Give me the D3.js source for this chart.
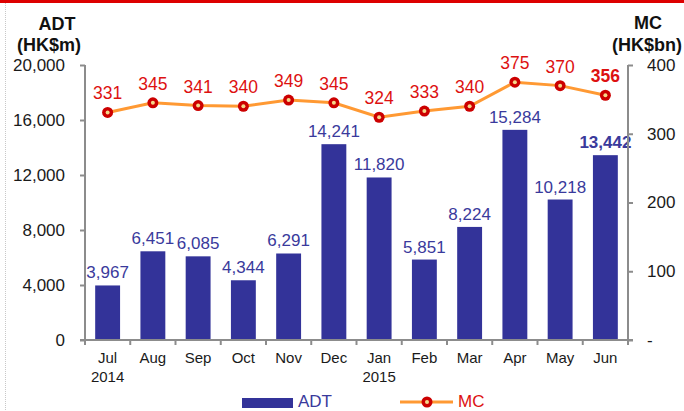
<!DOCTYPE html>
<html>
<head>
<meta charset="utf-8">
<script src="https://cdn.jsdelivr.net/npm/d3@7"></script>
<style>
  body { margin: 0; background: #fff; }
  svg { display: block; font-family: "Liberation Sans", Arial, sans-serif; }
</style>
</head>
<body>
<svg id="chart" width="684" height="411"></svg>
<script>
// months on the x axis, year shown under the first month of each year
let months = ['Jul', 'Aug', 'Sep', 'Oct', 'Nov', 'Dec', 'Jan', 'Feb', 'Mar', 'Apr', 'May', 'Jun'];
let years = ['2014', '', '', '', '', '', '2015', '', '', '', '', ''];
// average daily turnover, HK$m
let adt = [3967, 6451, 6085, 4344, 6291, 14241, 11820, 5851, 8224, 15284, 10218, 13442];
// market capitalisation, HK$bn
let mc = [331, 345, 341, 340, 349, 345, 324, 333, 340, 375, 370, 356];
let leftTicks = [0, 4000, 8000, 12000, 16000, 20000];
let rightTicks = [0, 100, 200, 300, 400];

let svg = d3.select('#chart');
let margin = {left: 85, right: 56, top: 65, bottom: 71};
let width = 684, height = 411;
let axisColor = '#8c8c8c';
let barColor = '#333399';
let lineColor = '#ff9933';
let dotColor = '#cc0000';
let mcTextColor = '#dd1111';

// top red rule and dotted left border
svg.append('rect').attr('x', 0).attr('y', 0).attr('width', width).attr('height', 3)
    .style('fill', '#dd0000');
svg.append('line').attr('x1', 5.5).attr('x2', 5.5).attr('y1', 3).attr('y2', height)
    .style('stroke', '#c8c8c8').style('stroke-dasharray', '1,1');

let x = d3.scaleBand()
    .domain(months)
    .range([margin.left, width - margin.right])
    .paddingInner(0.45)
    .paddingOuter(0.225);
let yL = d3.scaleLinear().domain([0, 20000]).range([height - margin.bottom, margin.top]);
let yR = d3.scaleLinear().domain([0, 400]).range([height - margin.bottom, margin.top]);

// bars
svg.selectAll('rect.bar')
    .data(adt)
    .join('rect')
    .attr('class', 'bar')
    .attr('x', (d, i) => x(months[i]))
    .attr('y', d => yL(d))
    .attr('width', x.bandwidth())
    .attr('height', d => yL(0) - yL(d))
    .style('fill', barColor);

svg.selectAll('text.barLabel')
    .data(adt)
    .join('text')
    .attr('class', 'barLabel')
    .attr('x', (d, i) => x(months[i]) + x.bandwidth() / 2)
    .attr('y', d => yL(d) - 7)
    .attr('text-anchor', 'middle')
    .style('font-size', '17px')
    .style('font-weight', (d, i) => i === adt.length - 1 ? 'bold' : 'normal')
    .style('fill', '#3a3a9c')
    .text(d => d3.format(',')(d));

// axes
let leftAxis = d3.axisLeft(yL).tickValues(leftTicks).tickSize(5).tickFormat(d3.format(','));
let gl = svg.append('g').attr('transform', 'translate(' + margin.left + ',0)').call(leftAxis);
let rightAxis = d3.axisRight(yR).tickValues(rightTicks).tickSize(5)
    .tickFormat(d => d === 0 ? '-' : d);
let gr = svg.append('g').attr('transform', 'translate(' + (width - margin.right) + ',0)').call(rightAxis);

let bandStep = x.step();
let boundaries = d3.range(months.length + 1).map(i => margin.left + i * bandStep);
let gx = svg.append('g');
gx.append('line')
    .attr('x1', margin.left - 5).attr('x2', width - margin.right + 5)
    .attr('y1', yL(0)).attr('y2', yL(0));
gx.selectAll('line.tick')
    .data(boundaries)
    .join('line')
    .attr('class', 'tick')
    .attr('x1', d => d).attr('x2', d => d)
    .attr('y1', yL(0)).attr('y2', yL(0) + 5);
gx.selectAll('line').style('stroke', axisColor).style('stroke-width', 2);

[gl, gr].forEach(g => {
  g.select('.domain').remove();
  g.selectAll('line').style('stroke', axisColor).style('stroke-width', 2);
  g.selectAll('text').style('font-size', '17px').style('fill', '#1a1a1a')
      .style('font-family', '"Liberation Sans", Arial, sans-serif');
});
gl.selectAll('text').attr('x', -20);
gr.selectAll('text').attr('x', 19);
gl.append('line').attr('x1', 0).attr('x2', 0).attr('y1', yL(20000)).attr('y2', yL(0))
    .style('stroke', axisColor).style('stroke-width', 2);
gr.append('line').attr('x1', 0).attr('x2', 0).attr('y1', yR(400)).attr('y2', yR(0))
    .style('stroke', axisColor).style('stroke-width', 2);

// month labels
svg.selectAll('text.month')
    .data(months)
    .join('text')
    .attr('class', 'month')
    .attr('x', d => x(d) + x.bandwidth() / 2)
    .attr('y', 363)
    .attr('text-anchor', 'middle')
    .style('font-size', '15px')
    .style('fill', '#1a1a1a')
    .text(d => d);
svg.selectAll('text.year')
    .data(years)
    .join('text')
    .attr('class', 'year')
    .attr('x', (d, i) => x(months[i]) + x.bandwidth() / 2)
    .attr('y', 382)
    .attr('text-anchor', 'middle')
    .style('font-size', '15px')
    .style('fill', '#1a1a1a')
    .text(d => d);

// MC line
let line = d3.line()
    .x((d, i) => x(months[i]) + x.bandwidth() / 2)
    .y(d => yR(d));
svg.append('path')
    .datum(mc)
    .attr('d', line)
    .style('fill', 'none')
    .style('stroke', lineColor)
    .style('stroke-width', 3);

function drawDot(sel, cx, cy) {
  sel.append('circle').attr('cx', cx).attr('cy', cy).attr('r', 5.5)
      .style('fill', dotColor);
  sel.append('circle').attr('cx', cx).attr('cy', cy).attr('r', 2)
      .style('fill', '#f5d88a');
}
let dots = svg.append('g');
mc.forEach((d, i) => drawDot(dots, x(months[i]) + x.bandwidth() / 2, yR(d)));

svg.selectAll('text.mcLabel')
    .data(mc)
    .join('text')
    .attr('class', 'mcLabel')
    .attr('x', (d, i) => x(months[i]) + x.bandwidth() / 2)
    .attr('y', d => yR(d) - 13)
    .attr('text-anchor', 'middle')
    .style('font-size', '17.5px')
    .style('font-weight', (d, i) => i === mc.length - 1 ? 'bold' : 'normal')
    .style('fill', mcTextColor)
    .text(d => d);

// axis titles
let titles = [
  {text: 'ADT', x: 57, y: 30},
  {text: '(HK$m)', x: 49, y: 51},
  {text: 'MC', x: 648, y: 29},
  {text: '(HK$bn)', x: 647, y: 51},
];
svg.selectAll('text.title')
    .data(titles)
    .join('text')
    .attr('class', 'title')
    .attr('x', d => d.x)
    .attr('y', d => d.y)
    .attr('text-anchor', 'middle')
    .style('font-size', '18px')
    .style('font-weight', 'bold')
    .style('fill', '#111')
    .text(d => d.text);

// legend
let legend = svg.append('g');
legend.append('rect').attr('x', 242).attr('y', 398).attr('width', 51).attr('height', 10)
    .style('fill', barColor);
legend.append('text').attr('x', 298).attr('y', 407).style('font-size', '17px')
    .style('fill', '#3a3a9c').text('ADT');
legend.append('line').attr('x1', 400).attr('x2', 453).attr('y1', 402).attr('y2', 402)
    .style('stroke', lineColor).style('stroke-width', 3);
drawDot(legend, 427, 402);
legend.append('text').attr('x', 458).attr('y', 407).style('font-size', '17px')
    .style('fill', mcTextColor).text('MC');
</script>
</body>
</html>
